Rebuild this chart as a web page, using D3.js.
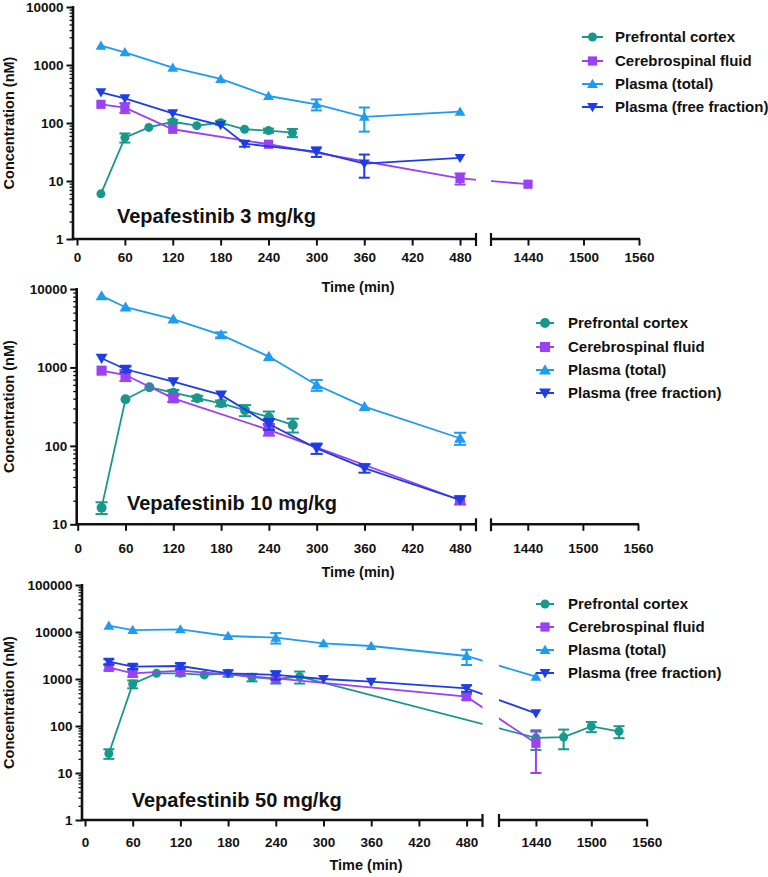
<!DOCTYPE html>
<html><head><meta charset="utf-8">
<script src="https://cdn.jsdelivr.net/npm/d3@7"></script>
<style>
body{margin:0;background:#fff}
svg{display:block}
text{font-family:"Liberation Sans",Arial,Helvetica,sans-serif;font-weight:bold;fill:#111}
</style>
</head><body>
<svg id="chart" width="768" height="877"></svg>
<script>
// ---------- data ----------
const seriesNames = ["Prefrontal cortex", "Cerebrospinal fluid", "Plasma (total)", "Plasma (free fraction)"];
const panelTitles = ["Vepafestinib 3 mg/kg", "Vepafestinib 10 mg/kg", "Vepafestinib 50 mg/kg"];
const xTicksLeft = [0, 60, 120, 180, 240, 300, 360, 420, 480];
const xTicksRight = [1440, 1500, 1560];
const yTicks3 = [1, 10, 100, 1000, 10000];
const yTicks10 = [10, 100, 1000, 10000];
const yTicks50 = [1, 10, 100, 1000, 10000, 100000];
const xLabel = "Time (min)";
const yLabel = "Concentration (nM)";

// 3 mg/kg
const pfcTime3 = [30, 60, 90, 120, 150, 180, 210, 240, 270];
const pfcMean3 = [6.0, 56, 84, 105, 90, 101, 78, 74, 68];
const pfcSem3 = [0, 10, 0, 8, 0, 8, 0, 6, 11];
const csfTime3 = [30, 60, 120, 240, 480, 1440];
const csfMean3 = [210, 184, 78, 43, 11.1, 8.8];
const csfSem3 = [0, 36, 0, 0, 2.4, 0];
const totTime3 = [30, 60, 120, 180, 240, 300, 360, 480];
const totMean3 = [2150, 1655, 900, 574, 292, 210, 128, 157];
const totSem3 = [0, 0, 0, 0, 0, 45, 57, 0];
const freeTime3 = [30, 60, 120, 180, 210, 300, 360, 480];
const freeMean3 = [338, 266, 147, 92, 44, 32, 20, 25];
const freeSem3 = [0, 0, 0, 0, 5, 6, 8.6, 0];

// 10 mg/kg
const pfcTime10 = [30, 60, 90, 120, 150, 180, 210, 240, 270];
const pfcMean10 = [16.3, 393, 558, 477, 405, 349, 285, 232, 185];
const pfcSem10 = [2.8, 0, 0, 40, 30, 30, 46, 42, 37];
const csfTime10 = [30, 60, 120, 240, 480];
const csfMean10 = [910, 800, 404, 160, 20.4];
const csfSem10 = [0, 130, 40, 25, 2.5];
const totTime10 = [30, 60, 120, 180, 240, 300, 360, 480];
const totMean10 = [8170, 5860, 4120, 2600, 1375, 598, 316, 125];
const totSem10 = [0, 0, 0, 200, 0, 95, 0, 22];
const freeTime10 = [30, 60, 120, 180, 240, 300, 360, 480];
const freeMean10 = [1310, 948, 659, 446, 190, 93, 52, 20.4];
const freeSem10 = [0, 80, 0, 0, 30, 14, 6.5, 0];

// 50 mg/kg
const pfcTime50 = [30, 60, 90, 120, 150, 180, 210, 240, 270, 1440, 1470, 1500, 1530];
const pfcMean50 = [26, 783, 1320, 1320, 1220, 1320, 1090, 1000, 1120, 56, 58, 98, 77];
const pfcSem50 = [6, 150, 0, 150, 0, 200, 200, 200, 320, 25, 26, 24, 22];
const csfTime50 = [30, 60, 120, 240, 480, 1440];
const csfMean50 = [1770, 1320, 1500, 1035, 420, 43];
const csfSem50 = [250, 200, 0, 0, 60, 33];
const totTime50 = [30, 60, 120, 180, 240, 300, 360, 480, 1440];
const totMean50 = [13600, 11000, 11400, 8220, 7570, 5740, 5040, 3085, 1120];
const totSem50 = [0, 0, 0, 0, 1900, 0, 0, 1100, 0];
const freeTime50 = [30, 60, 120, 180, 240, 300, 360, 480, 1440];
const freeMean50 = [2330, 1830, 1890, 1320, 1220, 1000, 877, 633, 186];
const freeSem50 = [300, 200, 250, 0, 250, 0, 0, 100, 0];

// ---------- styles / layout ----------
const colors = ["#17988b", "#9b40f2", "#1f9cf2", "#1f3de6"];
const shapes = ["circle", "square", "up", "down"];

const panelData = [
  [[pfcTime3, pfcMean3, pfcSem3], [csfTime3, csfMean3, csfSem3], [totTime3, totMean3, totSem3], [freeTime3, freeMean3, freeSem3]],
  [[pfcTime10, pfcMean10, pfcSem10], [csfTime10, csfMean10, csfSem10], [totTime10, totMean10, totSem10], [freeTime10, freeMean10, freeSem10]],
  [[pfcTime50, pfcMean50, pfcSem50], [csfTime50, csfMean50, csfSem50], [totTime50, totMean50, totSem50], [freeTime50, freeMean50, freeSem50]]
];

const layouts = [
  {yAxisX: 73, left: [77, 476], right: [491, 639], yRange: [239, 7], yDomain: [1, 10000], yTicks: yTicks3,
   tickLabelY: 262, title: [117, 223], timeLabel: [358, 292], legend: {mx: 592.5, half: 10.5, tx: 615, rows: [37, 61, 84, 107]}, ms: 1},
  {yAxisX: 76.7, left: [77.7, 476], right: [491, 638], yRange: [524.3, 289], yDomain: [10, 10000], yTicks: yTicks10,
   tickLabelY: 553, title: [127, 510], timeLabel: [358, 577], legend: {mx: 545, half: 9, tx: 568, rows: [323, 347, 370, 393]}, ms: 1.1},
  {yAxisX: 82, left: [85, 482.5], right: [499, 646.7], yRange: [820, 585], yDomain: [1, 100000], yTicks: yTicks50,
   tickLabelY: 847, title: [131.7, 806.7], timeLabel: [366, 870], legend: {mx: 545, half: 9, tx: 568, rows: [604, 627, 650, 673]}, ms: 1}
];

const svg = d3.select("#chart");

function markerPath(shape, s) {
  if (shape === "circle") return d3.symbol(d3.symbolCircle, Math.PI * (4.5 * s) ** 2)();
  if (shape === "square") { const h = 4.6 * s; return `M${-h},${-h}H${h}V${h}H${-h}Z`; }
  if (shape === "up") { const w = 5.4 * s, t = 5.2 * s, b = 4.0 * s; return `M0,${-t}L${w},${b}L${-w},${b}Z`; }
  const w = 5.4 * s, t = 5.2 * s, b = 4.0 * s; return `M0,${t}L${w},${-b}L${-w},${-b}Z`;
}

layouts.forEach((L, pi) => {
  const g = svg.append("g");
  const xl = d3.scaleLinear().domain([0, 500]).range(L.left);
  const xr = d3.scaleLinear().domain([1400, 1560]).range(L.right);
  const xs = t => t <= 500 ? xl(t) : xr(t);
  const y = d3.scaleLog().domain(L.yDomain).range(L.yRange);
  const axisY = L.yRange[0];

  // y axis: minor ticks
  const minors = [];
  for (let dec = L.yDomain[0]; dec < L.yDomain[1]; dec *= 10)
    for (let k = 2; k <= 9; k++) minors.push(dec * k);
  g.append("g").attr("transform", `translate(${L.yAxisX},0)`)
    .call(d3.axisLeft(y).tickValues(minors).tickSize(3.5).tickSizeOuter(0).tickFormat(""))
    .call(a => a.select(".domain").remove())
    .call(a => a.selectAll("line").attr("stroke", "#111").attr("stroke-width", 1.3));
  // y axis: major ticks
  g.append("g").attr("transform", `translate(${L.yAxisX},0)`)
    .call(d3.axisLeft(y).tickValues(L.yTicks).tickSize(6.5).tickSizeOuter(0).tickPadding(3).tickFormat(d3.format("d")))
    .call(a => a.select(".domain").remove())
    .call(a => a.selectAll("line").attr("stroke", "#111").attr("stroke-width", 2))
    .call(a => a.selectAll("text").attr("font-size", 13.5).style("font-family", "'Liberation Sans',Arial,sans-serif").style("font-weight", "bold").attr("fill", "#111"));
  g.append("line").attr("x1", L.yAxisX).attr("x2", L.yAxisX).attr("y1", axisY + 1.2).attr("y2", L.yRange[1] - 1)
    .attr("stroke", "#111").attr("stroke-width", 2.6);

  // x axes (two segments)
  const xAx = (scale, ticks) => g.append("g").attr("transform", `translate(0,${axisY})`)
    .call(d3.axisBottom(scale).tickValues(ticks).tickSize(6.5).tickSizeOuter(0).tickFormat(d3.format("d")))
    .call(a => a.select(".domain").remove())
    .call(a => a.selectAll("line").attr("stroke", "#111").attr("stroke-width", 2))
    .call(a => a.selectAll("text").attr("y", L.tickLabelY - axisY).attr("dy", 0).attr("font-size", 13.5)
      .style("font-family", "'Liberation Sans',Arial,sans-serif").style("font-weight", "bold").attr("fill", "#111"));
  xAx(xl, xTicksLeft);
  xAx(xr, xTicksRight);
  g.append("line").attr("x1", L.yAxisX).attr("x2", L.left[1]).attr("y1", axisY).attr("y2", axisY).attr("stroke", "#111").attr("stroke-width", 2.6);
  g.append("line").attr("x1", L.right[0]).attr("x2", L.right[1] + 1).attr("y1", axisY).attr("y2", axisY).attr("stroke", "#111").attr("stroke-width", 2.6);
  [L.left[1], L.right[0]].forEach(bx => g.append("line").attr("x1", bx).attr("x2", bx).attr("y1", axisY - 6).attr("y2", axisY + 7)
    .attr("stroke", "#111").attr("stroke-width", 2.2));

  // axis titles
  g.append("text").attr("x", L.timeLabel[0]).attr("y", L.timeLabel[1]).attr("text-anchor", "middle").attr("font-size", 14.5).text(xLabel);
  g.append("text").attr("transform", `translate(9,${(L.yRange[0] + L.yRange[1]) / 2}) rotate(-90)`).attr("text-anchor", "middle")
    .attr("dy", "0.35em").attr("font-size", 14.5).text(yLabel);

  // clip for broken axis
  const cid = "clip" + pi;
  const cp = svg.append("clipPath").attr("id", cid);
  cp.append("rect").attr("x", L.yAxisX).attr("y", 0).attr("width", L.left[1] - L.yAxisX).attr("height", 877);
  cp.append("rect").attr("x", L.right[0]).attr("y", 0).attr("width", 768 - L.right[0]).attr("height", 877);

  const line = d3.line().x(d => xs(d.t)).y(d => y(d.v));
  panelData[pi].forEach((ser, si) => {
    const pts = ser[0].map((t, i) => ({t, v: ser[1][i], e: ser[2][i]}));
    const col = colors[si];
    g.append("path").datum(pts).attr("d", line).attr("fill", "none").attr("stroke", col)
      .attr("stroke-width", 1.8).attr("clip-path", `url(#${cid})`);
    const capW = 5.5 * L.ms;
    pts.filter(p => p.e > 0).forEach(p => {
      const x = xs(p.t), y1 = y(p.v + p.e), y2 = y(Math.max(p.v - p.e, L.yDomain[0]));
      g.append("line").attr("x1", x).attr("x2", x).attr("y1", y1).attr("y2", y2).attr("stroke", col).attr("stroke-width", 2);
      [y1, y2].forEach(yy => g.append("line").attr("x1", x - capW).attr("x2", x + capW).attr("y1", yy).attr("y2", yy)
        .attr("stroke", col).attr("stroke-width", 2));
    });
    g.selectAll(null).data(pts).enter().append("path")
      .attr("d", markerPath(shapes[si], L.ms))
      .attr("transform", d => `translate(${xs(d.t)},${y(d.v)})`)
      .attr("fill", col);
  });

  // title
  g.append("text").attr("x", L.title[0]).attr("y", L.title[1]).attr("font-size", 20).text(panelTitles[pi]);

  // legend
  const lg = L.legend;
  seriesNames.forEach((name, si) => {
    const ry = lg.rows[si];
    g.append("line").attr("x1", lg.mx - lg.half).attr("x2", lg.mx + lg.half).attr("y1", ry).attr("y2", ry)
      .attr("stroke", colors[si]).attr("stroke-width", 2);
    g.append("path").attr("d", markerPath(shapes[si], L.ms)).attr("transform", `translate(${lg.mx},${ry})`).attr("fill", colors[si]);
    g.append("text").attr("x", lg.tx).attr("y", ry).attr("dy", "0.35em").attr("font-size", 15).text(name);
  });
});
</script>
</body></html>
